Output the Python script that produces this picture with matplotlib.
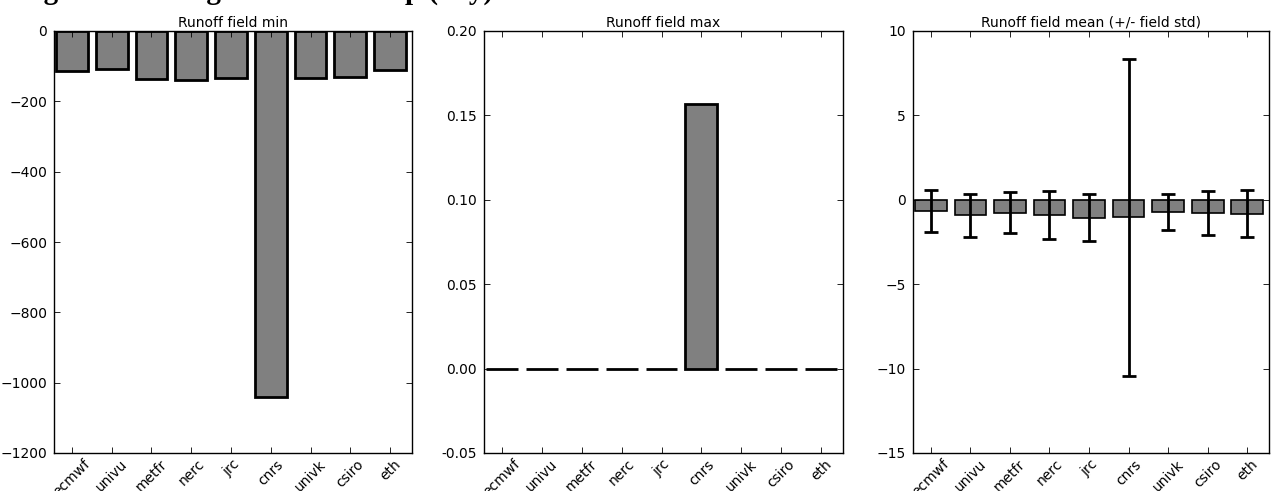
import numpy as np
import matplotlib
matplotlib.use("Agg")
import matplotlib.pyplot as plt
from matplotlib.ticker import FormatStrFormatter

models = ["ecmwf", "univu", "metfr", "nerc", "jrc", "cnrs", "univk", "csiro", "eth"]

# field statistics per model (mm/day)
field_min = [-113, -109, -136, -138, -133, -1040, -135, -130, -110]
field_max = [0.0, 0.0, 0.0, 0.0, 0.0, 0.157, 0.0, 0.0, 0.0]
field_mean = [-0.68, -0.92, -0.76, -0.90, -1.05, -1.03, -0.70, -0.80, -0.82]
field_std = [1.25, 1.28, 1.22, 1.40, 1.42, 9.40, 1.07, 1.30, 1.38]

plt.rcParams.update({
    "font.family": "DejaVu Sans",
    "font.size": 10,
    "xtick.direction": "in",
    "ytick.direction": "in",
    "xtick.top": True,
    "ytick.right": True,
    "xtick.major.size": 4,
    "ytick.major.size": 4,
    "xtick.major.width": 0.6,
    "ytick.major.width": 0.6,
    "xtick.major.pad": 3,
    "ytick.major.pad": 5,
    "axes.linewidth": 1.0,
})

W, H = 1274, 491
fig = plt.figure(figsize=(W / 100, H / 100), dpi=100)


def px_axes(x0, x1, top=31, bottom=453):
    return fig.add_axes([x0 / W, (H - bottom) / H, (x1 - x0) / W, (bottom - top) / H])


ax1 = px_axes(54, 412)
ax2 = px_axes(484, 843)
ax3 = px_axes(913, 1269)

x = np.arange(len(models))

ax1.bar(x, field_min, width=0.8, color="#808080", edgecolor="black", linewidth=2)
ax1.set_ylim(-1200, 0)
ax1.set_title("Runoff field min", fontsize=10, pad=3)

ax2.bar(x, field_max, width=0.8, color="#808080", edgecolor="black", linewidth=2)
ax2.set_ylim(-0.05, 0.20)
ax2.set_yticks(np.arange(-0.05, 0.2001, 0.05))
ax2.yaxis.set_major_formatter(FormatStrFormatter("%.2f"))
ax2.set_title("Runoff field max", fontsize=10, pad=3)

ax3.bar(x, field_mean, width=0.8, color="#808080", edgecolor="black", linewidth=1.2)
ax3.errorbar(x, field_mean, yerr=field_std, fmt="none", ecolor="black",
             elinewidth=2, capsize=5, capthick=2)
ax3.set_ylim(-15, 10)
ax3.set_title("Runoff field mean (+/- field std)", fontsize=10, pad=3)

for ax in (ax1, ax2, ax3):
    ax.set_xlim(-0.45, 8.55)
    ax.set_xticks(x)
    ax.set_xticklabels(models, rotation=45, ha="center")

# figure heading, sitting mostly above the top edge
fig.text(0.0, 1.0 + 1.5 / H, "Diagnostics of regridded flux map (day)",
         fontsize=21, fontweight="bold", family="Liberation Serif",
         ha="left", va="baseline")

fig.savefig("out.png", dpi=100)
